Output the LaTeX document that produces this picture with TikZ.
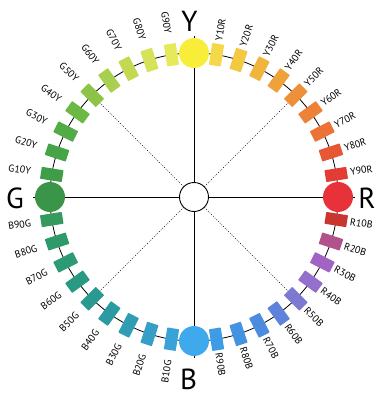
\documentclass[tikz,border=0pt]{standalone}
\usepackage{fontspec}
\setmainfont{PT Sans}
\definecolor{cG10Y}{HTML}{3E9E47}
\definecolor{cG20Y}{HTML}{45A348}
\definecolor{cG30Y}{HTML}{51AC47}
\definecolor{cG40Y}{HTML}{6BB845}
\definecolor{cG50Y}{HTML}{8DC447}
\definecolor{cG60Y}{HTML}{A8CF4D}
\definecolor{cG70Y}{HTML}{C3DA50}
\definecolor{cG80Y}{HTML}{D6E257}
\definecolor{cG90Y}{HTML}{E6E95A}
\definecolor{cY}{HTML}{F8EE3A}
\definecolor{cY10R}{HTML}{F4D84A}
\definecolor{cY20R}{HTML}{F3C944}
\definecolor{cY30R}{HTML}{F1B53E}
\definecolor{cY40R}{HTML}{EFA13B}
\definecolor{cY50R}{HTML}{EE8F3A}
\definecolor{cY60R}{HTML}{EE8138}
\definecolor{cY70R}{HTML}{EC7236}
\definecolor{cY80R}{HTML}{E85733}
\definecolor{cY90R}{HTML}{E33D33}
\definecolor{cR}{HTML}{E7323A}
\definecolor{cR10B}{HTML}{C9352F}
\definecolor{cR20B}{HTML}{B2528B}
\definecolor{cR30B}{HTML}{A264C4}
\definecolor{cR40B}{HTML}{946FCB}
\definecolor{cR50B}{HTML}{7D78D2}
\definecolor{cR60B}{HTML}{5F83DB}
\definecolor{cR70B}{HTML}{4B8CDE}
\definecolor{cR80B}{HTML}{4493E2}
\definecolor{cR90B}{HTML}{3E9CE6}
\definecolor{cB}{HTML}{3FA9EE}
\definecolor{cB10G}{HTML}{39A2D9}
\definecolor{cB20G}{HTML}{359FC8}
\definecolor{cB30G}{HTML}{319DB5}
\definecolor{cB40G}{HTML}{2C9AA2}
\definecolor{cB50G}{HTML}{2A998F}
\definecolor{cB60G}{HTML}{2A9981}
\definecolor{cB70G}{HTML}{2B9A75}
\definecolor{cB80G}{HTML}{2E9A69}
\definecolor{cB90G}{HTML}{349A5D}
\definecolor{cG}{HTML}{3A9549}
\tikzset{
  ring/.style={line width=0.8pt, black},
  axis/.style={line width=0.9pt, black},
  dots/.style={line width=0.7pt, dash pattern=on 0.8pt off 1.6pt, black},
  swatch/.style={rectangle, minimum width=22pt, minimum height=12pt, inner sep=0pt, draw=none, rounded corners=0.6pt},
  mainc/.style={circle, minimum size=30pt, inner sep=0pt, draw=none},
  hub/.style={circle, minimum size=29pt, inner sep=0pt, draw=black, fill=white, line width=0.9pt},
  lab/.style={font=\fontsize{10}{10}\selectfont, inner sep=0pt},
  big/.style={font=\fontsize{29}{30}\selectfont, inner sep=0pt}
}
\begin{document}
\begin{tikzpicture}[x=1pt,y=1pt]
\useasboundingbox (-194,-203) rectangle (195,197);
\def\R{144}
\draw[ring] (0,0) circle (\R);
\node[hub] (c) at (0,0) {};
\coordinate (tY) at (90:161);
\coordinate (tR) at (0:161);
\coordinate (tB) at (270:161);
\coordinate (tG) at (180:161);
\draw[axis] (c) -- (tY);
\draw[axis] (c) -- (tR);
\draw[axis] (c) -- (tB);
\draw[axis] (c) -- (tG);
% swatches and labels, right half
\foreach \a/\n in {81/Y10R,72/Y20R,63/Y30R,54/Y40R,45/Y50R,36/Y60R,27/Y70R,18/Y80R,9/Y90R,
  -9/R10B,-18/R20B,-27/R30B,-36/R40B,-45/R50B,-54/R60B,-63/R70B,-72/R80B,-81/R90B}{
  \node[swatch, fill=c\n, rotate=\a] (s\n) at (\a:\R) {};
  \node[lab, anchor=west, rotate=\a] (l\n) at (\a:158) {\n};
}
% left half
\foreach \a/\n in {171/G10Y,162/G20Y,153/G30Y,144/G40Y,135/G50Y,126/G60Y,117/G70Y,108/G80Y,99/G90Y,
  261/B10G,252/B20G,243/B30G,234/B40G,225/B50G,216/B60G,207/B70G,198/B80G,189/B90G}{
  \node[swatch, fill=c\n, rotate=\a] (s\n) at (\a:\R) {};
  \node[lab, anchor=east, rotate=\a+180] (l\n) at (\a:165) {\n};
}
\draw[dots] (c) -- (sG50Y);
\draw[dots] (c) -- (sY50R);
\draw[dots] (c) -- (sR50B);
\draw[dots] (c) -- (sB50G);
\node[mainc, fill=cY] (Y) at (90:\R) {};
\node[mainc, fill=cR] (R) at (0:\R) {};
\node[mainc, fill=cB] (B) at (270:\R) {};
\node[mainc, fill=cG] (G) at (180:\R) {};
\node[big] (LY) at (-4.5,176) {Y};
\node[big] (LR) at (173,-1) {R};
\node[big] (LG) at (-179,-1) {G};
\node[big] (LB) at (-5.5,-182) {B};
\end{tikzpicture}
\end{document}
